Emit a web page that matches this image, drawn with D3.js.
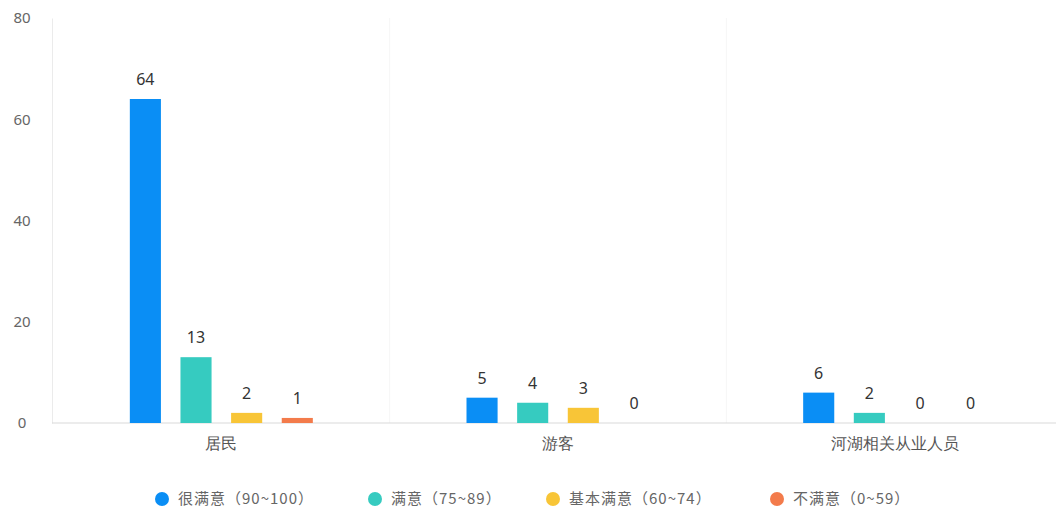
<!DOCTYPE html>
<html>
   <head>
      <meta charset="utf-8" />
      <script src="https://cdn.jsdelivr.net/npm/d3@7/dist/d3.min.js"></script>
   </head>
   <style>
      body {
         margin: 0px;
         overflow: hidden;
         background: #fff;
         font-family: "Noto Sans CJK SC", "Noto Sans", sans-serif;
      }
   </style>
   <body>
      <svg width="1056" height="513"></svg>
      <script>
         // chart data
         const categories = ["居民", "游客", "河湖相关从业人员"];
         const seriesNames = ["很满意（90~100）", "满意（75~89）", "基本满意（60~74）", "不满意（0~59）"];
         const colors = ["#0a8ef5", "#36cbc0", "#f8c537", "#f37b4b"];
         const veryHappy = [64, 5, 6];
         const happy = [13, 4, 2];
         const basic = [2, 3, 0];
         const unhappy = [1, 0, 0];
         const yTicks = [0, 20, 40, 60, 80];

         (function (d3) {
            "use strict";

            const series = [veryHappy, happy, basic, unhappy];

            const svg = d3.select("svg");
            // the band range runs a little past the right edge, like the original
            const mLeft = 52, mTop = 18, mBottom = 423;
            const bandStart = 53, bandEnd = 1063;
            const groupWidth = 183;

            const x = d3.scaleBand().domain(categories).range([bandStart, bandEnd]);
            const xInner = d3.scaleBand()
               .domain(d3.range(series.length))
               .range([0, groupWidth])
               .paddingInner(0.386);
            const y = d3.scaleLinear().domain([0, 80]).range([mBottom, mTop]);

            // faint band separators
            svg.append("g")
               .selectAll("line")
               .data(categories.slice(1))
               .enter()
               .append("line")
               .attr("x1", (d) => x(d))
               .attr("x2", (d) => x(d))
               .attr("y1", mTop)
               .attr("y2", mBottom)
               .attr("stroke", "#f6f6f6");

            // y axis
            const yAxis = svg.append("g")
               .attr("transform", `translate(${mLeft},0)`)
               .call(d3.axisLeft(y).tickValues(yTicks).tickSize(0).tickPadding(14));
            yAxis.select(".domain").attr("stroke", "#ebebeb");
            yAxis.selectAll("text")
               .attr("fill", "#666")
               .style("font-size", "15px")
               .style("font-family", "'Noto Sans', sans-serif")
               .attr("text-anchor", "middle")
               .attr("dx", "-16");

            // x axis
            const xAxis = svg.append("g")
               .attr("transform", `translate(0,${mBottom})`)
               .call(d3.axisBottom(x).tickSize(0).tickPadding(15));
            xAxis.select(".domain").attr("stroke", "#d9d9d9").attr("d", `M${mLeft},0H1056`);
            xAxis.selectAll("text")
               .attr("fill", "#555")
               .style("font-size", "16px");

            // bars
            const groups = svg.append("g")
               .selectAll("g")
               .data(categories)
               .enter()
               .append("g")
               .attr("transform", (d) => `translate(${x(d) + x.bandwidth() / 2 - groupWidth / 2},0)`);

            groups.each(function (cat, ci) {
               const g = d3.select(this);
               series.forEach((s, si) => {
                  const v = s[ci];
                  g.append("rect")
                     .attr("x", xInner(si))
                     .attr("y", y(v))
                     .attr("width", xInner.bandwidth())
                     .attr("height", mBottom - y(v))
                     .attr("fill", colors[si]);
                  g.append("text")
                     .attr("x", xInner(si) + xInner.bandwidth() / 2)
                     .attr("y", y(v) - 14)
                     .attr("text-anchor", "middle")
                     .attr("fill", "#333")
                     .style("font-size", "16px")
                     .style("font-family", "'Noto Sans', sans-serif")
                     .text(v);
               });
            });

            // legend
            const legendX = [162, 375, 553, 777];
            const legend = svg.append("g")
               .selectAll("g")
               .data(seriesNames)
               .enter()
               .append("g")
               .attr("transform", (d, i) => `translate(${legendX[i]},499)`);
            legend.append("circle")
               .attr("r", 7)
               .attr("fill", (d, i) => colors[i]);
            legend.append("text")
               .attr("x", 16)
               .attr("dy", "0.35em")
               .attr("fill", "#666")
               .style("font-size", "15px")
               .style("letter-spacing", "1px")
               .text((d) => d);
         })(d3);
      </script>
   </body>
</html>
